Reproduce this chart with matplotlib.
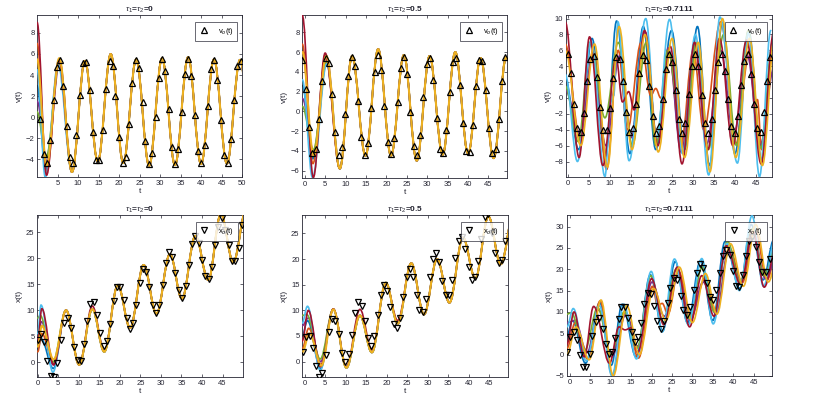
import matplotlib
matplotlib.use("Agg")
import matplotlib.pyplot as plt
from matplotlib.path import Path
from matplotlib.patches import PathPatch

plt.rcParams['font.family'] = ['Liberation Sans', 'DejaVu Sans']
plt.rcParams['mathtext.fontset'] = 'custom'
plt.rcParams['mathtext.rm'] = 'Liberation Sans'
plt.rcParams['mathtext.it'] = 'Liberation Sans:italic'
plt.rcParams['mathtext.bf'] = 'Liberation Sans:bold'

C = {'blue': '#0072BD', 'orange': '#D95319', 'yellow': '#EDB120', 'purple': '#7E2F8E',
     'green': '#77AC30', 'cyan': '#4DBEEE', 'darkred': '#A2142F'}
ORDER = ['blue', 'orange', 'purple', 'green', 'cyan', 'darkred', 'yellow']

# ---------------- Panel 1 : v, tau=0 ----------------
p1_main_t = [5.4, 8.5, 11.65, 14.8, 17.95, 21.0, 24.15, 27.3, 30.45, 33.6, 36.8, 39.95, 43.1, 46.25, 49.45, 52.6]
p1_main_v = [5.6, -5.2, 5.35, -4.2, 6.0, -4.35, 5.5, -4.6, 5.6, -4.55, 5.7, -4.45, 5.5, -4.4, 5.45, -4.4]
p1_early_t = {'blue': [0.0, 2.1, 5.3], 'orange': [0.0, 2.3, 5.4], 'yellow': [0.0, 2.3],
              'purple': [0.0, 2.4, 5.5], 'green': [0.0, 2.2, 5.4], 'cyan': [0.0, 2.0, 5.1],
              'darkred': [0.0, 2.3, 5.3]}
p1_early_v = {'blue': [3.0, -5.0, 5.3], 'orange': [7.0, -5.2, 5.5], 'yellow': [5.5, -4.6],
              'purple': [1.5, -4.2, 5.3], 'green': [0.5, -3.8, 5.2], 'cyan': [4.5, -5.7, 5.0],
              'darkred': [9.0, -5.5, 5.4]}
p1_obs_t = [0.73, 1.6, 2.4, 3.2, 4.0, 4.8, 5.6, 6.4, 7.2, 8.0, 8.8, 9.6, 10.4, 11.1, 12.0, 12.8, 13.7, 14.4,
            15.2, 16.0, 16.8, 17.7, 18.5, 19.1, 19.95, 20.9, 21.6, 22.4, 23.2, 24.0, 24.8, 25.7, 26.4, 27.3,
            27.9, 28.9, 29.6, 30.4, 31.2, 32.1, 32.8, 33.6, 34.4, 35.2, 36.0, 36.8, 37.55, 38.4, 39.2, 40.0,
            40.8, 41.6, 42.4, 43.2, 43.9, 44.7, 45.55, 46.4, 47.2, 47.9, 48.7, 49.6]
p1_obs_v = [-0.2, -3.5, -4.3, -2.2, 1.6, 4.75, 5.4, 3.0, -0.8, -3.8, -4.3, -1.7, 2.1, 5.1, 5.2, 2.6, -1.4, -4.1,
            -4.1, -1.2, 2.7, 5.3, 4.9, 2.0, -1.9, -4.3, -3.75, -0.65, 3.25, 5.4, 4.7, 1.4, -2.3, -4.4,
            -3.4, 0.0, 3.7, 5.5, 4.35, 0.8, -2.8, -4.4, -3.0, 0.5, 4.1, 5.5, 3.9, 0.2, -3.2, -4.35,
            -2.6, 1.1, 4.55, 5.4, 3.5, -0.3, -3.55, -4.3, -2.1, 1.6, 4.85, 5.35]

# ---------------- Panel 2 : v, tau=0.5 ----------------
p2_main_t = [5.3, 8.6, 11.6, 14.9, 18.0, 21.15, 24.3, 27.45, 30.6, 33.8, 36.9, 40.05, 43.1, 46.3, 49.4, 52.6]
p2_main_v = [5.6, -5.8, 5.6, -4.5, 6.3, -4.5, 5.7, -5.0, 5.6, -4.4, 6.0, -4.3, 5.4, -4.75, 5.5, -4.5]
p2_early_t = {'blue': [-0.6, 2.0, 5.2], 'orange': [-0.6, 2.0, 5.1], 'yellow': [-0.6, 2.2],
              'purple': [-0.6, 2.3, 5.4], 'green': [-0.6, 2.1, 5.4], 'cyan': [-0.6, 1.9, 5.4],
              'darkred': [-0.6, 2.1, 5.0]}
p2_early_v = {'blue': [2.6, -4.8, 5.5], 'orange': [6.8, -5.3, 5.7], 'yellow': [6.0, -4.5],
              'purple': [1.3, -4.2, 5.3], 'green': [0.5, -3.9, 5.0], 'cyan': [3.2, -6.7, 4.8],
              'darkred': [9.7, -6.7, 5.9]}
p2_obs_t = [-0.59, 0.24, 1.14, 1.87, 2.69, 3.5, 4.3, 5.14, 5.88, 6.7, 7.5, 8.33, 9.14, 9.95, 10.7, 11.5, 12.4,
            13.1, 13.87, 14.78, 15.5, 16.25, 17.16, 17.96, 18.77, 19.5, 20.34, 21.15, 21.96, 22.8, 23.5,
            24.34, 25.15, 25.9, 26.7, 27.5, 28.3, 29.07, 29.9, 30.8, 31.5, 32.35, 33.1, 33.97, 34.7, 35.5,
            36.35, 37.16, 38.0, 38.8, 39.6, 40.4, 41.2, 42.0, 42.7, 43.5, 44.36, 45.17, 45.9, 46.8, 47.55,
            48.36, 49.17]
p2_obs_v = [5.17, 2.23, -1.58, -4.18, -3.8, -0.77, 3.07, 5.4, 4.86, 1.73, -2.1, -4.38, -3.57, -0.27, 3.55, 5.53,
            4.56, 1.08, -2.6, -4.38, -3.17, 0.31, 4.0, 5.67, 4.19, 0.55, -3.06, -4.34, -2.72, 0.95, 4.39, 5.5,
            3.81, -0.06, -3.47, -4.41, -2.36, 1.49, 4.76, 5.43, 3.17, -0.67, -3.77, -4.24, -1.88, 1.99, 4.97,
            5.37, 2.64, -1.2, -4.04, -4.14, -1.4, 2.57, 5.23, 5.1, 2.16, -1.71, -4.24, -3.77, -0.77, 3.1, 5.47]

# ---------------- Panel 3 : v, tau=0.7111 ----------------
p3_t = {
    'cyan':    [-0.75, 2.2, 5.5, 8.8, 10.2, 10.9, 11.9, 14.6, 18.6, 21.2, 24.3, 27.4, 30.5, 33.7, 36.4, 40.6, 43.2, 45.9, 48.6],
    'darkred': [-0.75, 2.6, 5.1, 8.3, 11.5, 13.0, 14.5, 15.8, 18.3, 21.5, 24.5, 27.3, 30.3, 33.5, 36.3, 39.5, 42.8, 46.3, 49.3],
    'blue':    [-0.75, 2.5, 5.7, 8.9, 11.6, 14.8, 18.0, 21.0, 24.8, 27.9, 31.0, 33.9, 37.0, 40.0, 43.3, 46.4, 49.0],
    'orange':  [-0.75, 2.8, 6.0, 9.2, 12.0, 14.2, 17.5, 19.8, 21.0, 22.2, 24.2, 27.0, 30.0, 32.5, 36.6, 40.2, 43.5, 44.8, 45.4, 46.4, 49.2],
    'purple':  [-0.75, 2.9, 5.9, 9.0, 12.3, 15.1, 18.5, 21.3, 24.0, 27.1, 30.4, 33.2, 36.6, 39.7, 43.0, 46.0, 49.5],
    'green':   [-0.75, 2.4, 5.3, 8.8, 12.0, 15.4, 18.7, 21.0, 23.9, 27.7, 30.8, 33.6, 37.3, 40.4, 43.2, 46.2, 49.0],
    'yellow':  [-0.75, 3.0, 6.3, 9.4, 12.2, 15.3, 18.4, 21.6, 24.9, 27.9, 31.2, 34.0, 37.0, 40.2, 43.5, 46.6, 49.6],
}
p3_v = {
    'cyan':    [3.0, -8.0, 7.2, -9.9, -0.5, 0.3, 9.6, -7.9, 10.0, -5.0, 9.9, -7.0, 8.0, -9.7, 10.2, -8.2, 8.2, -9.9, 8.5],
    'darkred': [9.6, -7.5, 7.7, -8.5, 5.0, -0.5, 0.8, -1.5, 8.5, -6.0, 6.5, -8.3, 7.0, -6.5, 7.5, -6.0, 7.3, -8.3, 8.3],
    'blue':    [2.5, -6.5, 7.5, -7.5, 9.7, -7.0, 9.0, -6.5, 8.5, -6.5, 9.0, -8.5, 9.5, -7.0, 8.5, -7.8, 7.0],
    'orange':  [6.8, -5.0, 6.0, -9.0, 6.0, -4.0, 7.0, 0.3, 1.2, 0.0, 5.5, -6.0, 6.0, -4.0, 9.6, -5.8, 6.0, -0.5, -0.2, -6.5, 6.5],
    'purple':  [1.0, -4.5, 5.5, -6.0, 5.3, -5.0, 8.3, -5.5, 6.3, -6.8, 6.5, -5.8, 6.0, -4.5, 5.3, -6.0, 4.0],
    'green':   [1.5, -5.5, 7.0, -2.5, 7.0, -6.0, 7.0, -6.0, 6.0, -6.5, 7.0, -6.5, 8.0, -6.0, 8.5, -6.3, 6.5],
    'yellow':  [6.0, -6.0, 6.8, -8.7, 9.0, -6.5, 8.0, -6.8, 7.5, -7.5, 7.0, -9.3, 10.0, -7.5, 7.5, -8.5, 8.0],
}
p3_obs_t = [-0.15, 0.65, 1.44, 2.16, 2.98, 3.7, 4.57, 5.29, 6.1, 6.82, 7.62, 8.4, 9.22, 9.95, 10.75, 11.5, 12.35,
            13.1, 13.94, 14.66, 15.48, 16.27, 17.07, 17.88, 18.67, 19.47, 20.3, 21.1, 21.8, 22.7, 23.4, 24.2,
            25.0, 25.8, 26.5, 27.4, 28.1, 28.9, 29.7, 30.46, 31.25, 32.07, 32.8, 33.58, 34.38, 35.2, 36.0,
            36.8, 37.5, 38.3, 39.1, 39.9, 40.7, 41.44, 42.24, 43.03, 43.85, 44.57, 45.36, 46.15, 46.97, 47.7, 48.5]
p3_obs_v = [5.5, 3.17, -0.73, -3.8, -4.28, -1.94, 2.12, 4.97, 5.26, 2.63, -1.18, -4.07, -4.07, -1.3, 2.54, 5.18,
            4.97, 2.08, -1.77, -4.28, -3.82, -0.8, 3.13, 5.39, 4.76, 1.53, -2.27, -4.45, -3.53, -0.14, 3.63, 5.48,
            4.47, 0.99, -2.65, -4.45, -3.15, 0.45, 4.05, 5.48, 4.05, 0.36, -3.2, -4.45, -2.65, 0.99, 4.47, 5.5,
            3.41, -0.18, -3.53, -4.45, -2.23, 1.58, 4.67, 5.48, 3.04, -0.8, -3.82, -4.28, -1.8, 2.12, 5.1]

# ---------------- Panel 4 : x, tau=0 ----------------
p4_main_t = [6.9, 10.1, 13.3, 16.2, 19.5, 22.5, 25.8, 28.9, 32.2, 35.1, 38.4, 41.5, 44.6, 47.6, 50.8]
p4_main_v = [10.0, -0.5, 10.2, 2.0, 14.8, 6.6, 18.7, 9.3, 20.8, 12.2, 24.3, 15.8, 28.5, 19.2, 29.5]
p4_early_t = {'blue': [0.0, 0.8, 3.8], 'orange': [0.0, 1.0, 3.9], 'yellow': [0.0, 1.0, 3.9],
              'purple': [0.0, 0.9, 3.8], 'green': [0.0, 0.6, 3.7], 'cyan': [0.0, 0.8, 3.7],
              'darkred': [0.0, 1.0, 3.9, 6.9, 10.1, 13.3, 16.2]}
p4_early_v = {'blue': [2.5, 4.5, -1.2], 'orange': [2.0, 5.5, -0.3], 'yellow': [3.0, 7.0, 0.5],
              'purple': [4.5, 7.8, -0.5], 'green': [8.5, 9.0, 0.0], 'cyan': [5.5, 11.0, -1.9],
              'darkred': [4.0, 10.3, -0.5, 10.0, -0.5, 10.8, 2.2]}
p4_obs_t = [0.0, 0.75, 1.5, 2.3, 3.2, 4.0, 4.8, 5.6, 6.5, 7.3, 8.1, 8.9, 9.7, 10.5, 11.2, 12.0, 12.8, 13.6, 14.4,
            15.2, 16.1, 16.8, 17.7, 18.5, 19.3, 20.1, 20.9, 21.7, 22.5, 23.2, 24.0, 24.8, 25.6, 26.4, 27.2,
            28.0, 28.8, 29.6, 30.4, 31.2, 32.0, 32.8, 33.5, 34.4, 35.2, 36.0, 36.8, 37.5, 38.4, 39.2, 40.0,
            40.8, 41.6, 42.4, 43.2, 44.0, 44.8, 45.7, 46.5, 47.3, 48.1, 48.9, 49.7]
p4_obs_v = [4.3, 5.4, 3.8, 0.26, -2.56, -2.9, -0.2, 4.2, 7.5, 8.5, 6.5, 3.0, 0.45, 0.3, 3.5, 7.9, 11.15, 11.5, 9.1,
            5.7, 3.2, 4.0, 7.3, 11.8, 14.55, 14.55, 12.0, 8.5, 6.35, 7.5, 11.0, 15.2, 17.9, 17.4, 14.4,
            11.0, 9.55, 11.0, 14.9, 19.0, 21.1, 20.3, 17.1, 13.9, 12.4, 14.7, 18.7, 22.8, 24.3, 23.0, 19.7,
            16.6, 16.0, 18.3, 22.6, 26.0, 27.7, 25.5, 22.6, 19.55, 19.4, 21.9, 26.4]

# ---------------- Panel 5 : x, tau=0.5 ----------------
p5_main_t = [7.0, 10.2, 13.5, 16.4, 19.8, 22.7, 26.0, 29.1, 32.3, 35.3, 38.6, 41.6, 44.8, 47.8, 51.0]
p5_main_v = [10.2, -1.2, 9.0, 1.8, 15.4, 7.4, 19.2, 9.2, 20.0, 11.5, 24.2, 16.2, 28.3, 19.0, 29.0]
p5_early_t = {'blue': [-0.6, 0.7, 3.9], 'orange': [-0.6, 1.0, 4.0], 'yellow': [-0.6, 1.2, 4.1],
              'purple': [-0.6, 0.9, 3.9], 'green': [-0.6, 0.5, 3.8], 'cyan': [-0.6, 0.7, 3.8],
              'darkred': [-0.6, 0.9, 3.9, 7.0, 10.2, 13.5, 16.4, 19.8, 22.7]}
p5_early_v = {'blue': [5.0, 8.0, -1.4], 'orange': [2.5, 6.5, -0.5], 'yellow': [1.8, 5.5, -0.8],
              'purple': [7.0, 8.5, 0.0], 'green': [9.0, 9.2, 0.5], 'cyan': [7.5, 10.8, -1.7],
              'darkred': [4.0, 10.0, -1.0, 10.3, -1.0, 10.2, 2.3, 15.2, 8.0]}
p5_obs_t = [-0.4, 0.4, 1.2, 2.0, 2.8, 3.5, 4.3, 5.1, 5.9, 6.7, 7.5, 8.3, 9.1, 9.9, 10.7, 11.5, 12.3, 13.1, 13.9,
            14.7, 15.4, 16.2, 17.0, 17.8, 18.6, 19.4, 20.2, 20.9, 21.7, 22.5, 23.3, 24.1, 24.9, 25.7, 26.5,
            27.3, 28.0, 28.8, 29.6, 30.5, 31.3, 32.1, 32.8, 33.6, 34.4, 35.2, 36.0, 36.7, 37.6, 38.4, 39.2,
            40.0, 40.8, 41.6, 42.3, 43.1, 43.9, 44.8, 45.6, 46.5, 47.3, 48.1, 48.9]
p5_obs_v = [1.95, 4.9, 5.0, 2.6, -0.85, -3.05, -2.3, 1.3, 5.7, 8.4, 8.0, 5.3, 1.75, -0.1, 1.4, 5.1, 9.4, 11.7, 10.85,
            7.9, 4.7, 3.1, 5.0, 9.0, 13.05, 14.9, 13.8, 10.6, 7.3, 6.5, 8.6, 12.7, 16.6, 18.05, 16.6,
            13.0, 10.1, 9.7, 12.3, 16.6, 20.0, 21.1, 19.35, 15.8, 13.05, 13.0, 15.9, 20.3, 23.6, 24.35, 21.9,
            18.5, 16.0, 16.6, 19.6, 24.0, 28.2, 28.8, 25.0, 21.1, 19.2, 19.9, 23.5]

# ---------------- Panel 6 : x, tau=0.7111 ----------------
p6_t = {
    'cyan':    [-0.75, 0.8, 4.0, 7.2, 10.3, 13.2, 16.3, 19.9, 22.6, 25.6, 29.0, 32.3, 35.1, 38.5, 41.5, 44.6, 47.4, 50.5],
    'blue':    [-0.75, 0.6, 3.8, 7.3, 10.1, 12.8, 16.2, 19.7, 22.7, 25.8, 28.8, 32.0, 35.0, 38.0, 41.6, 44.4, 47.3, 50.0],
    'darkred': [-0.75, 1.0, 3.5, 5.8, 9.7, 12.0, 13.5, 15.0, 16.6, 20.0, 23.0, 26.3, 29.3, 32.3, 35.3, 38.3, 41.8, 44.8, 47.6, 50.5],
    'orange':  [-0.75, 1.3, 4.3, 7.4, 10.3, 13.6, 16.8, 20.2, 21.5, 22.6, 24.0, 26.6, 29.7, 33.0, 35.9, 39.0, 42.2, 45.3, 48.3, 51.0],
    'purple':  [-0.75, 1.2, 4.2, 7.0, 10.2, 13.8, 16.6, 20.1, 23.1, 26.5, 29.5, 32.6, 35.8, 38.8, 41.9, 44.9, 47.9, 51.0],
    'green':   [-0.75, 0.3, 3.6, 6.8, 10.0, 13.3, 16.4, 19.8, 22.9, 26.0, 29.2, 32.4, 35.4, 38.6, 41.7, 44.7, 47.6, 50.7],
    'yellow':  [-0.75, 1.5, 4.7, 7.6, 10.6, 13.9, 17.0, 20.5, 23.5, 26.8, 30.0, 33.2, 36.0, 39.3, 42.5, 45.5, 48.6, 51.5],
}
p6_v = {
    'cyan':    [6.5, 10.8, -1.5, 11.5, -5.0, 11.8, -1.0, 19.5, 5.3, 22.4, 7.0, 22.5, 7.2, 26.0, 15.0, 32.5, 16.0, 28.0],
    'blue':    [4.5, 8.0, -2.0, 12.2, -2.5, 11.8, -0.5, 18.7, 5.5, 21.8, 7.5, 22.0, 8.0, 26.5, 15.5, 30.5, 17.5, 27.0],
    'darkred': [2.5, 10.0, -0.5, 11.3, -2.0, 6.5, 5.8, 6.3, 0.5, 17.8, 7.0, 20.5, 6.5, 18.5, 9.0, 25.5, 16.5, 29.0, 15.8, 25.0],
    'orange':  [1.5, 7.5, -1.0, 12.6, -4.8, 10.0, -0.8, 16.0, 11.5, 12.0, 9.5, 19.5, 9.0, 17.5, 10.0, 25.0, 16.8, 29.5, 17.5, 26.0],
    'purple':  [7.5, 8.0, 0.5, 10.5, -0.5, 9.5, 2.0, 17.0, 9.0, 18.5, 8.0, 17.0, 9.5, 24.0, 17.5, 28.0, 17.8, 24.0],
    'green':   [9.5, 9.8, 1.0, 11.0, 0.0, 10.0, 1.5, 18.5, 7.5, 20.0, 8.5, 20.5, 10.0, 26.5, 17.0, 29.5, 18.5, 27.0],
    'yellow':  [0.0, 6.5, -1.2, 12.8, -5.0, 11.5, 0.0, 15.5, 8.0, 20.5, 7.5, 19.0, 9.5, 26.0, 16.0, 30.5, 17.0, 26.0],
}
p6_obs_t = [-0.7, 0.1, 0.9, 1.6, 2.4, 3.2, 4.0, 4.8, 5.5, 6.3, 7.1, 8.0, 8.8, 9.5, 10.3, 11.1, 11.9, 12.6, 13.5,
            14.3, 15.1, 15.9, 16.6, 17.4, 18.2, 19.1, 19.9, 20.6, 21.4, 22.2, 23.1, 23.9, 24.6, 25.5, 26.3,
            27.1, 27.8, 28.7, 29.5, 30.3, 31.1, 31.8, 32.7, 33.5, 34.3, 35.1, 35.9, 36.7, 37.5, 38.3, 39.1,
            39.9, 40.7, 41.4, 42.3, 43.1, 43.9, 44.7, 45.6, 46.4, 47.1, 48.0, 48.9]
p6_obs_v = [0.6, 4.2, 5.3, 3.4, -0.15, -2.9, -2.9, 0.25, 4.3, 7.7, 8.5, 6.1, 2.4, 0.25, 0.6, 3.9, 8.3, 11.2, 11.2,
            8.6, 5.2, 3.0, 4.2, 7.5, 11.8, 14.5, 14.3, 11.4, 7.9, 6.1, 7.9, 12.0, 15.5, 18.0, 17.5,
            13.8, 10.4, 9.25, 11.2, 15.1, 19.2, 21.2, 20.2, 16.7, 13.6, 12.8, 15.1, 19.2, 23.0, 24.5, 23.3,
            19.6, 16.1, 15.75, 18.6, 23.0, 26.5, 27.5, 25.3, 21.8, 19.4, 19.4, 22.3]

titles = ['$\\tau_1$=$\\tau_2$=0', '$\\tau_1$=$\\tau_2$=0.5', '$\\tau_1$=$\\tau_2$=0.7111']


def merge(early_t, early_v, main_t, main_v):
    ts = list(early_t)
    vs = list(early_v)
    for t, v in zip(main_t, main_v):
        if t > ts[-1] + 1.0:
            ts.append(t)
            vs.append(v)
    return ts, vs


def add_curve(ax, ts, vs, color, lw, z):
    verts = [(ts[0], vs[0])]
    codes = [Path.MOVETO]
    for i in range(1, len(ts)):
        d = (ts[i] - ts[i - 1]) * 0.365
        verts += [(ts[i - 1] + d, vs[i - 1]), (ts[i] - d, vs[i]), (ts[i], vs[i])]
        codes += [Path.CURVE4] * 3
    ax.add_patch(PathPatch(Path(verts, codes), fill=False, edgecolor=color, lw=lw, zorder=z,
                           joinstyle='round', capstyle='round'))


W, H = 814, 398
fig = plt.figure(figsize=(W / 100, H / 100), dpi=100)

boxes = [(37.3, 15, 242.3, 177.3), (302.3, 15, 507.3, 178), (566, 15, 772, 177),
         (37.3, 215, 242.7, 377.3), (302.3, 215, 507.7, 377), (567, 215, 772, 376)]

axes = []
for (l, t, r, b) in boxes:
    ax = fig.add_axes([l / W, 1 - b / H, (r - l) / W, (b - t) / H])
    axes.append(ax)

LW = 1.2
shared = [
    (0, p1_early_t, p1_early_v, p1_main_t, p1_main_v),
    (1, p2_early_t, p2_early_v, p2_main_t, p2_main_v),
    (3, p4_early_t, p4_early_v, p4_main_t, p4_main_v),
    (4, p5_early_t, p5_early_v, p5_main_t, p5_main_v),
]
for idx, et, ev, mt, mv in shared:
    ax = axes[idx]
    for k, name in enumerate(ORDER):
        ts, vs = merge(et[name], ev[name], mt, mv)
        add_curve(ax, ts, vs, C[name], LW + (0.3 if name == 'yellow' else 0), 2 + k)

for idx, dt, dv in [(2, p3_t, p3_v), (5, p6_t, p6_v)]:
    ax = axes[idx]
    for k, name in enumerate(ORDER):
        add_curve(ax, dt[name], dv[name], C[name], LW, 2 + k)

obs = [(p1_obs_t, p1_obs_v), (p2_obs_t, p2_obs_v), (p3_obs_t, p3_obs_v),
       (p4_obs_t, p4_obs_v), (p5_obs_t, p5_obs_v), (p6_obs_t, p6_obs_v)]
labels = ['v$_o$(t)'] * 3 + ['x$_o$(t)'] * 3
markers = ['^'] * 3 + ['v'] * 3

xlims = [(0.05, 50), (-0.6, 49.65), (-0.55, 48.9), (-0.1, 49.9), (-0.56, 49.5), (-0.73, 49.5)]
ylims = [(-5.7, 9.7), (-6.75, 9.75), (-9.95, 10.45), (-2.9, 28.3), (-3.0, 28.6), (-5.0, 32.7)]
xticks = [list(range(5, 51, 5))] + [list(range(0, 46, 5))] * 5
yticks = [list(range(-4, 9, 2)), list(range(-6, 9, 2)), list(range(-8, 11, 2)),
          list(range(0, 26, 5)), list(range(0, 26, 5)), list(range(-5, 31, 5))]
ylabels = ['v(t)'] * 3 + ['x(t)'] * 3

TC = '#262633'
for i, ax in enumerate(axes):
    ot, ov = obs[i]
    ax.plot(ot, ov, linestyle='none', marker=markers[i], ms=4.0, mfc='none', mec='k', mew=0.9,
            zorder=20, label=labels[i])
    ax.set_xlim(*xlims[i])
    ax.set_ylim(*ylims[i])
    ax.set_xticks(xticks[i])
    ax.set_yticks(yticks[i])
    ax.tick_params(direction='in', length=2.2, width=0.5, labelsize=5.5, colors=TC, pad=2,
                   top=True, right=True)
    for s in ax.spines.values():
        s.set_linewidth(0.6)
        s.set_color(TC)
    ax.set_title(titles[i % 3], fontsize=6, fontweight='bold', color=TC, pad=2)
    ax.set_xlabel('t', fontsize=6, color=TC, labelpad=1)
    ax.set_ylabel(ylabels[i], fontsize=6, color=TC, labelpad=2)
    leg = ax.legend(loc='upper right', bbox_to_anchor=(0.975, 0.955), borderaxespad=0, fontsize=5.5,
                    frameon=True, fancybox=False, handlelength=1.2, handletextpad=1.2,
                    borderpad=0.5, markerscale=1.0)
    leg.get_frame().set_edgecolor(TC)
    leg.get_frame().set_linewidth(0.6)
    leg.set_zorder(30)

fig.savefig('out.png', dpi=100)
